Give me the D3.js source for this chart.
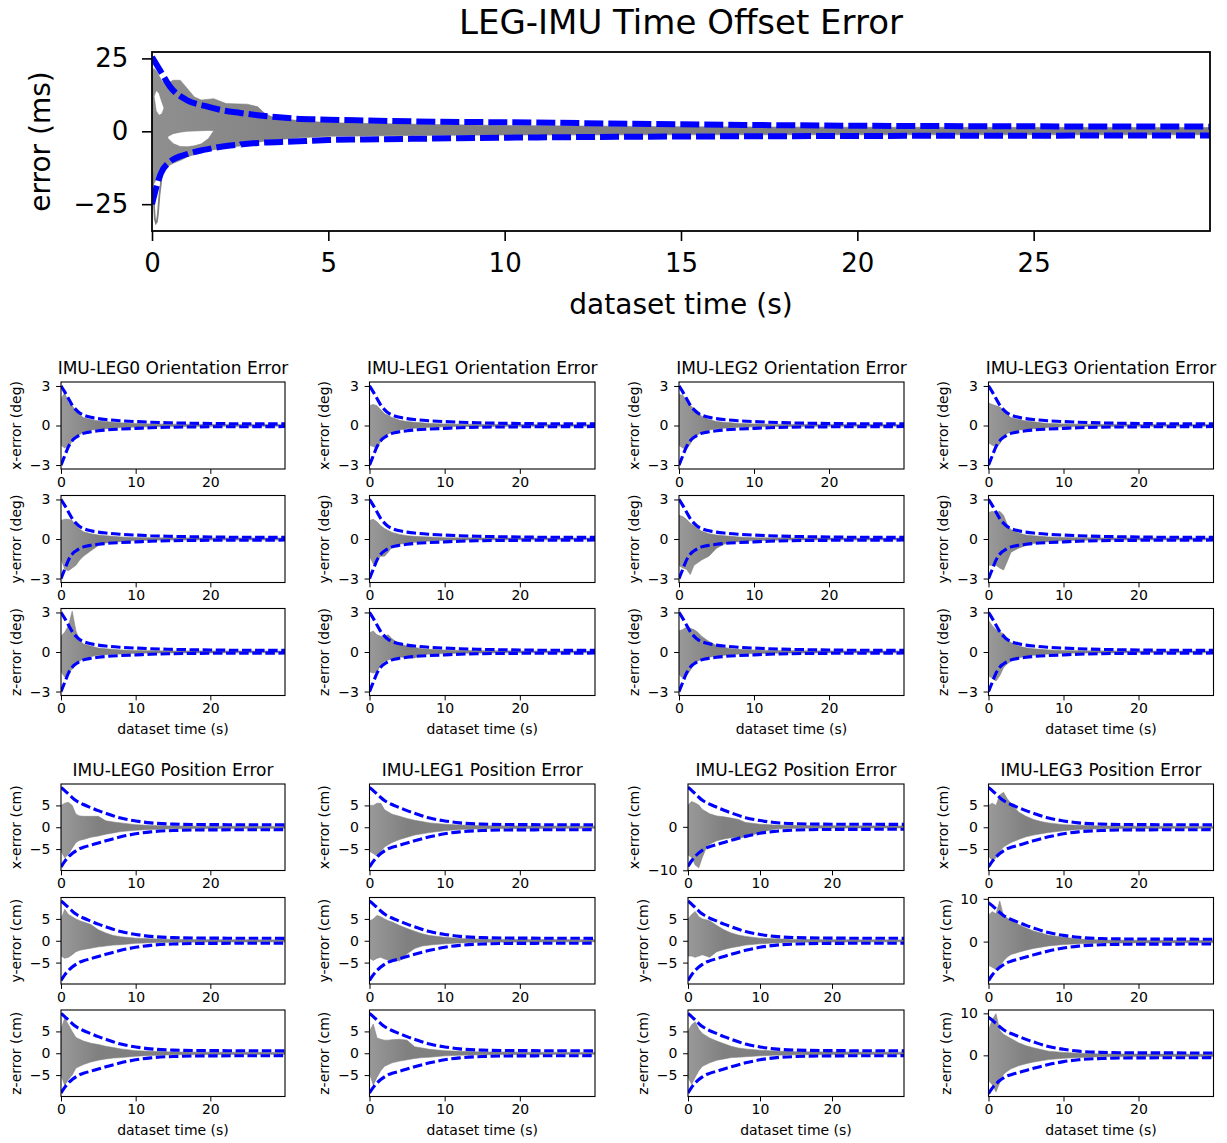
<!DOCTYPE html>
<html><head><meta charset="utf-8">
<script src="https://cdn.jsdelivr.net/npm/d3@7"></script>
<style>body{margin:0;background:#fff;} svg{display:block;font-family:"DejaVu Sans",sans-serif;}</style>
</head><body><svg id="c" width="1227" height="1143"></svg>
<script>
// ================= DATA =================
const legs = ["LEG0", "LEG1", "LEG2", "LEG3"];
const comps = ["x", "y", "z"];
const xTicksTop = [0, 5, 10, 15, 20, 25];
const yTicksTop = [-25, 0, 25];
const xTicksSmall = [0, 10, 20];
const yTicksOri = [-3, 0, 3];

// --- Time offset (top) ---
const topT      = [0, 0.05, 0.1, 0.15, 0.2, 0.3, 0.45, 0.6, 0.8, 1.0, 1.2, 1.4, 1.75, 2.1, 2.7, 3.0, 3.2, 3.45, 4.2, 5.1, 7.6, 10, 15, 20, 30];
const topGrayUp = [20, 21.6, 21, 20.4, 19, 17, 16.5, 17.5, 17.5, 14.7, 11.8, 10.7, 11.2, 9.5, 9.3, 8.4, 6.1, 4.7, 3.6, 2.9, 2.4, 2.0, 1.6, 1.4, 1.3];
const topGrayLo = [-14, -18, -17, -15.7, -15, -13.4, -12, -11, -10, -8.8, -8, -7.1, -6.3, -5.6, -4.8, -3.8, -3.3, -3.0, -2.2, -1.7, -1.4, -1.3, -1.2, -1.2, -1.2];
const topHole1T   = [0.45, 0.6, 0.8, 1.0, 1.2, 1.4, 1.6, 1.75];
const topHole1Top = [-1.8, -0.8, -0.3, 0, 0.1, 0.2, 0.3, 0.2];
const topHole1Bot = [-2.4, -4.2, -5.2, -5.3, -5.0, -4.3, -2.5, 0.2];
const topHole2T   = [0.06, 0.12, 0.2, 0.28, 0.34];
const topHole2Top = [12, 14, 13, 10, 8];
const topHole2Bot = [12, 7, 5.5, 6, 8];
const topOutT = [0.02, 0.05, 0.08, 0.11, 0.14, 0.17, 0.21, 0.27, 0.35];
const topOutV = [-14, -24, -30, -31.5, -31, -28, -22, -16, -12];
const topBoundT  = [0, 0.25, 0.5, 1, 1.5, 2, 2.5, 3, 4, 5, 6, 8, 10, 15, 20, 25, 30];
const topBoundUp = [25.5, 20.5, 15.5, 10.6, 8.7, 7.2, 6.3, 5.5, 4.4, 4.0, 3.7, 3.3, 3.1, 2.4, 1.9, 1.7, 1.6];
const topBoundLo = [-25, -14.5, -10.5, -7.8, -6.3, -5.2, -4.5, -4.0, -3.5, -3.0, -2.8, -2.5, -2.2, -1.8, -1.6, -1.5, -1.4];

// --- small panels: shared time grids ---
const grayT  = [0, 0.5, 1, 1.5, 2, 2.5, 3, 4, 5, 6, 7, 8, 10, 12, 15, 20, 30];
const boundT = [0, 0.5, 1, 1.5, 2, 2.5, 3, 4, 5, 6, 8, 10, 12, 15, 20, 25, 30];

// orientation 3-sigma bounds (deg)
const oriBoundUp = [3.0, 2.55, 2.05, 1.55, 1.2, 0.95, 0.8, 0.62, 0.52, 0.45, 0.36, 0.3, 0.25, 0.2, 0.15, 0.13, 0.12];
const oriBoundLo = [-3.0, -2.3, -1.6, -1.15, -0.9, -0.72, -0.6, -0.48, -0.4, -0.34, -0.27, -0.22, -0.17, -0.13, -0.1, -0.09, -0.08];
// position 3-sigma bounds (cm)
const posBoundUp = [9.1, 8.4, 7.6, 6.8, 6.1, 5.6, 5.2, 4.5, 3.8, 3.2, 2.1, 1.45, 1.0, 0.72, 0.6, 0.58, 0.55];
const posBoundLo = [-9.1, -7.8, -6.8, -6.0, -5.4, -4.9, -4.6, -4.1, -3.6, -3.1, -2.2, -1.5, -1.05, -0.75, -0.6, -0.58, -0.55];

// orientation MC envelopes per leg: [x, y, z]
const oriUpL0 = [[2.0, 2.5, 1.7, 1.5, 1.1, 0.8, 0.6, 0.45, 0.35, 0.3, 0.25, 0.2, 0.15, 0.12, 0.1, 0.08, 0.08],
                 [1.4, 1.5, 1.5, 1.4, 1.0, 0.75, 0.55, 0.4, 0.3, 0.25, 0.2, 0.16, 0.12, 0.1, 0.08, 0.08, 0.08],
                 [1.2, 1.5, 2.0, 3.1, 1.6, 0.9, 0.6, 0.45, 0.3, 0.25, 0.2, 0.16, 0.12, 0.1, 0.08, 0.08, 0.07]];
const oriLoL0 = [[-1.5, -1.7, -1.6, -1.2, -0.9, -0.7, -0.5, -0.35, -0.3, -0.25, -0.2, -0.16, -0.12, -0.1, -0.08, -0.06, -0.06],
                 [-1.5, -2.3, -2.4, -2.2, -2.0, -1.6, -1.3, -0.9, -0.5, -0.3, -0.25, -0.2, -0.12, -0.1, -0.08, -0.08, -0.08],
                 [-1.5, -1.9, -1.6, -1.3, -1.0, -0.7, -0.5, -0.35, -0.25, -0.2, -0.18, -0.15, -0.1, -0.08, -0.07, -0.07, -0.06]];
const oriUpL1 = [[1.5, 1.6, 1.5, 1.2, 0.9, 0.75, 0.6, 0.4, 0.3, 0.25, 0.2, 0.16, 0.12, 0.1, 0.08, 0.08, 0.07],
                 [1.4, 1.5, 1.3, 1.0, 0.8, 0.65, 0.5, 0.35, 0.25, 0.2, 0.18, 0.15, 0.1, 0.09, 0.08, 0.07, 0.07],
                 [1.45, 1.6, 1.3, 1.2, 1.2, 1.3, 1.0, 0.6, 0.45, 0.35, 0.25, 0.2, 0.15, 0.12, 0.1, 0.08, 0.07]];
const oriLoL1 = [[-1.5, -1.6, -1.75, -1.2, -0.8, -0.65, -0.5, -0.35, -0.25, -0.2, -0.18, -0.14, -0.1, -0.08, -0.07, -0.06, -0.06],
                 [-1.3, -1.9, -1.6, -1.3, -1.3, -1.0, -0.6, -0.4, -0.3, -0.25, -0.2, -0.16, -0.1, -0.08, -0.07, -0.06, -0.06],
                 [-1.5, -1.6, -1.5, -1.0, -0.7, -0.6, -0.5, -0.4, -0.4, -0.45, -0.2, -0.16, -0.12, -0.1, -0.08, -0.06, -0.06]];
const oriUpL2 = [[2.35, 2.3, 1.9, 1.5, 1.3, 1.1, 0.7, 0.45, 0.3, 0.25, 0.2, 0.16, 0.12, 0.1, 0.08, 0.08, 0.07],
                 [1.8, 1.7, 1.5, 1.2, 1.0, 0.8, 0.6, 0.4, 0.3, 0.25, 0.2, 0.15, 0.1, 0.09, 0.08, 0.07, 0.07],
                 [1.6, 1.7, 1.9, 1.8, 1.7, 1.5, 1.2, 0.8, 0.5, 0.35, 0.25, 0.2, 0.15, 0.12, 0.1, 0.08, 0.08]];
const oriLoL2 = [[-1.5, -1.7, -1.8, -1.4, -0.9, -0.7, -0.55, -0.35, -0.25, -0.2, -0.18, -0.14, -0.1, -0.08, -0.07, -0.06, -0.06],
                 [-2.0, -2.2, -2.3, -2.7, -2.0, -1.8, -1.6, -1.3, -0.7, -0.4, -0.25, -0.2, -0.12, -0.1, -0.08, -0.07, -0.07],
                 [-1.7, -2.0, -1.8, -1.4, -0.9, -0.7, -0.55, -0.4, -0.3, -0.25, -0.2, -0.16, -0.12, -0.1, -0.08, -0.07, -0.07]];
const oriUpL3 = [[1.7, 1.6, 1.5, 1.4, 1.2, 0.8, 0.6, 0.45, 0.35, 0.28, 0.2, 0.16, 0.12, 0.1, 0.08, 0.08, 0.07],
                 [2.0, 2.1, 2.0, 2.1, 1.8, 1.1, 0.7, 0.45, 0.3, 0.25, 0.2, 0.16, 0.12, 0.1, 0.08, 0.08, 0.08],
                 [2.4, 2.0, 1.7, 1.5, 1.4, 1.0, 0.7, 0.45, 0.32, 0.25, 0.2, 0.16, 0.12, 0.1, 0.08, 0.07, 0.07]];
const oriLoL3 = [[-1.3, -1.5, -1.6, -1.4, -0.8, -0.6, -0.5, -0.35, -0.3, -0.25, -0.2, -0.15, -0.1, -0.08, -0.07, -0.06, -0.06],
                 [-2.0, -2.0, -2.0, -2.2, -2.35, -1.7, -1.0, -0.7, -0.5, -0.35, -0.25, -0.2, -0.12, -0.1, -0.08, -0.07, -0.07],
                 [-1.8, -2.0, -2.2, -1.8, -1.2, -0.9, -0.7, -0.45, -0.3, -0.25, -0.2, -0.15, -0.1, -0.08, -0.07, -0.06, -0.06]];

// position MC envelopes per leg: [x, y, z]
const posUpL0 = [[5.0, 5.5, 5.7, 5.0, 3.0, 2.6, 2.5, 2.5, 2.5, 1.5, 1.2, 1.0, 0.6, 0.4, 0.3, 0.25, 0.2],
                 [4.9, 7.2, 6.0, 5.5, 5.0, 4.6, 4.3, 3.7, 2.5, 1.8, 1.2, 0.9, 0.6, 0.45, 0.3, 0.25, 0.2],
                 [5.5, 8.0, 6.5, 5.0, 3.6, 3.2, 2.8, 2.3, 2.0, 1.6, 1.3, 1.0, 0.6, 0.45, 0.3, 0.25, 0.2]];
const posLoL0 = [[-5.5, -7.0, -6.2, -4.8, -3.5, -3.0, -2.8, -2.3, -2.0, -1.6, -1.3, -1.0, -0.7, -0.5, -0.35, -0.3, -0.25],
                 [-3.5, -4.0, -3.8, -3.2, -2.5, -2.2, -2.0, -1.7, -1.4, -1.2, -1.0, -0.9, -0.6, -0.45, -0.35, -0.3, -0.25],
                 [-5.0, -7.3, -6.0, -5.0, -3.4, -3.0, -2.6, -2.0, -1.6, -1.3, -1.1, -1.0, -0.7, -0.5, -0.35, -0.3, -0.25]];
const posUpL1 = [[5.0, 5.0, 5.5, 5.5, 4.0, 3.5, 3.0, 2.5, 2.0, 1.6, 1.3, 1.0, 0.7, 0.5, 0.35, 0.3, 0.25],
                 [4.5, 5.0, 5.8, 5.5, 5.0, 4.6, 4.3, 3.5, 2.8, 2.2, 1.6, 1.2, 0.8, 0.5, 0.35, 0.3, 0.25],
                 [5.0, 6.7, 3.5, 3.2, 3.0, 3.0, 3.1, 3.2, 3.0, 1.5, 1.2, 0.9, 0.6, 0.45, 0.3, 0.25, 0.2]];
const posLoL1 = [[-5.5, -6.0, -6.6, -5.5, -4.5, -4.0, -3.5, -2.8, -2.3, -1.8, -1.5, -1.2, -0.8, -0.5, -0.35, -0.3, -0.25],
                 [-4.0, -4.5, -4.0, -3.8, -4.2, -4.4, -4.6, -4.6, -3.0, -1.8, -1.2, -1.0, -0.7, -0.5, -0.35, -0.3, -0.25],
                 [-4.5, -7.3, -5.5, -4.0, -3.0, -2.6, -2.2, -1.8, -1.5, -1.2, -1.0, -0.9, -0.6, -0.45, -0.35, -0.3, -0.25]];
const posUpL2 = [[5.0, 5.8, 5.5, 5.0, 4.0, 3.5, 3.0, 2.5, 2.3, 2.0, 1.7, 1.0, 0.6, 0.4, 0.3, 0.25, 0.2],
                 [5.0, 6.0, 6.7, 5.5, 5.0, 4.8, 4.6, 3.5, 2.5, 1.8, 1.3, 1.0, 0.6, 0.45, 0.3, 0.25, 0.2],
                 [5.0, 6.5, 7.2, 5.5, 4.5, 4.0, 3.5, 2.8, 2.2, 1.6, 1.2, 1.0, 0.7, 0.5, 0.35, 0.3, 0.25]];
const posLoL2 = [[-6.5, -7.0, -8.8, -9.4, -7.0, -5.0, -4.0, -3.2, -2.8, -2.5, -2.5, -2.4, -1.3, -0.5, -0.35, -0.3, -0.25],
                 [-3.5, -3.5, -3.8, -3.5, -3.2, -3.5, -3.8, -2.5, -2.0, -1.6, -1.3, -1.0, -0.7, -0.5, -0.35, -0.3, -0.25],
                 [-5.5, -7.1, -5.5, -4.0, -3.0, -2.6, -2.2, -1.6, -1.3, -1.0, -0.9, -0.8, -0.6, -0.45, -0.35, -0.3, -0.25]];
const posUpL3 = [[5.0, 5.5, 5.0, 7.4, 8.0, 6.5, 5.5, 3.5, 2.5, 1.8, 1.3, 1.0, 0.6, 0.45, 0.3, 0.25, 0.2],
                 [6.2, 7.0, 6.5, 9.5, 6.0, 5.5, 5.0, 4.0, 3.2, 2.5, 2.0, 1.5, 1.0, 0.6, 0.35, 0.3, 0.25],
                 [6.0, 8.5, 9.9, 6.0, 5.0, 4.5, 4.0, 3.0, 2.3, 1.8, 1.4, 1.0, 0.7, 0.5, 0.35, 0.3, 0.25]];
const posLoL3 = [[-6.5, -7.7, -7.0, -5.5, -4.5, -4.0, -3.5, -2.8, -2.2, -1.8, -1.5, -1.2, -0.8, -0.5, -0.35, -0.3, -0.25],
                 [-5.5, -6.0, -6.5, -5.7, -4.5, -3.6, -3.0, -2.5, -2.0, -1.6, -1.3, -1.0, -0.7, -0.5, -0.35, -0.3, -0.25],
                 [-6.0, -7.0, -8.7, -6.5, -4.5, -3.8, -3.2, -2.5, -2.0, -1.6, -1.3, -1.0, -0.7, -0.5, -0.35, -0.3, -0.25]];

// y-axis limits and tick labels of position panels
const posYLim = [[[-9.9, 9.9], [-9.9, 9.9], [-9.9, 9.9]],
                 [[-9.9, 9.9], [-9.9, 9.9], [-9.9, 9.9]],
                 [[-10.05, 9.85], [-9.9, 9.9], [-9.9, 9.9]],
                 [[-9.9, 9.9], [-9.9, 10.3], [-9.8, 10.8]]];
const posYTicks = [[[-5, 0, 5], [-5, 0, 5], [-5, 0, 5]],
                   [[-5, 0, 5], [-5, 0, 5], [-5, 0, 5]],
                   [[-10, 0], [-5, 0, 5], [-5, 0, 5]],
                   [[-5, 0, 5], [0, 10], [0, 10]]];

const oriUp = [oriUpL0, oriUpL1, oriUpL2, oriUpL3];
const oriLo = [oriLoL0, oriLoL1, oriLoL2, oriLoL3];
const posUp = [posUpL0, posUpL1, posUpL2, posUpL3];
const posLo = [posLoL0, posLoL1, posLoL2, posLoL3];

// ================= DRAWING =================
const svg = d3.select("#c");
const defs = svg.append("defs");
let uid = 0;
const fmt = d => d < 0 ? "\u2212" + (-d) : String(d);

const smallStyle = { tickFs: 14, labelFs: 14, titleFs: 17, tickLen: 4.9, tickW: 1.0, spineW: 1.1,
  xTickPad: 3.0, yTickPad: 5.6, yLabelGap: 8.9, xLabelOff: 38, titleOff: 8.4,
  blueW: 3.1, dash: "9.5,3.6", grayStart: 0.8, fadeEnd: 5, outW: 1.0 };
const bigStyle = { tickFs: 26, labelFs: 28, titleFs: 34, tickLen: 10, tickW: 1.6, spineW: 1.8,
  xTickPad: 12.5, yTickPad: 13.7, yLabelGap: 23.4, xLabelOff: 83, titleOff: 18,
  blueW: 6, dash: "19,5", grayStart: 0.88, fadeEnd: 5, outW: 1.8 };

function drawPanel(p) {
  const id = uid++;
  const s = p.style;
  const g = svg.append("g");
  const x = d3.scaleLinear().domain([0, 30]).range([p.left, p.left + p.width]);
  const y = d3.scaleLinear().domain(p.yLim).range([p.top + p.height, p.top]);

  defs.append("clipPath").attr("id", "clip" + id).append("rect")
    .attr("x", p.left).attr("y", p.top).attr("width", p.width).attr("height", p.height);
  const grad = defs.append("linearGradient").attr("id", "grad" + id)
    .attr("gradientUnits", "userSpaceOnUse")
    .attr("x1", x(0)).attr("x2", x(s.fadeEnd)).attr("y1", 0).attr("y2", 0);
  grad.append("stop").attr("offset", 0).attr("stop-color", "#808080").attr("stop-opacity", s.grayStart);
  grad.append("stop").attr("offset", 1).attr("stop-color", "#808080").attr("stop-opacity", 1);

  const plot = g.append("g").attr("clip-path", `url(#clip${id})`);
  const area = d3.area().x(d => x(d[0])).y0(d => y(d[1])).y1(d => y(d[2]));
  let dStr = area(d3.zip(p.grayT, p.grayLo, p.grayUp));
  (p.holes || []).forEach(h => { dStr += area(d3.zip(h.t, h.bot, h.top)); });
  plot.append("path").attr("d", dStr).attr("fill", `url(#grad${id})`).attr("fill-rule", "evenodd")
    .attr("stroke", "#808080").attr("stroke-width", 0.7).attr("stroke-opacity", 0.8);

  const line = d3.line().x(d => x(d[0])).y(d => y(d[1]));
  (p.outliers || []).forEach(o => {
    plot.append("path").attr("d", line(d3.zip(o.t, o.v))).attr("fill", "none")
      .attr("stroke", "#808080").attr("stroke-width", s.outW);
  });

  const bline = d3.line().curve(d3.curveMonotoneX).x(d => x(d[0])).y(d => y(d[1]));
  [p.boundUp, p.boundLo].forEach(arr => {
    plot.append("path").attr("d", bline(d3.zip(p.boundT, arr))).attr("fill", "none")
      .attr("stroke", "#0000ff").attr("stroke-width", s.blueW).attr("stroke-dasharray", s.dash);
  });

  // axes
  const xa = g.append("g").attr("transform", `translate(0,${p.top + p.height})`)
    .call(d3.axisBottom(x).tickValues(p.xTicks).tickFormat(fmt).tickSize(s.tickLen).tickSizeOuter(0).tickPadding(s.xTickPad));
  const ya = g.append("g").attr("transform", `translate(${p.left},0)`)
    .call(d3.axisLeft(y).tickValues(p.yTicks).tickFormat(fmt).tickSize(s.tickLen).tickSizeOuter(0).tickPadding(s.yTickPad));
  [xa, ya].forEach(a => {
    a.select(".domain").remove();
    a.selectAll("line").attr("stroke", "#000").attr("stroke-width", s.tickW);
    a.selectAll("text").attr("fill", "#000").attr("font-size", s.tickFs).attr("font-family", "DejaVu Sans");
  });

  g.append("rect").attr("x", p.left).attr("y", p.top).attr("width", p.width).attr("height", p.height)
    .attr("fill", "none").attr("stroke", "#000").attr("stroke-width", s.spineW);

  // y label (placed left of widest tick label)
  let maxW = 0;
  ya.selectAll("text").each(function () { maxW = Math.max(maxW, this.getComputedTextLength()); });
  const ylx = p.left - s.tickLen - s.yTickPad - maxW - s.yLabelGap;
  const ycy = p.top + p.height / 2;
  g.append("text").attr("transform", `translate(${ylx},${ycy}) rotate(-90)`)
    .attr("text-anchor", "middle").attr("font-size", s.labelFs).attr("fill", "#000").text(p.ylabel);

  if (p.xlabel) {
    g.append("text").attr("x", p.left + p.width / 2).attr("y", p.top + p.height + s.xLabelOff)
      .attr("text-anchor", "middle").attr("font-size", s.labelFs).attr("fill", "#000").text(p.xlabel);
  }
  if (p.title) {
    g.append("text").attr("x", p.left + p.width / 2).attr("y", p.top - s.titleOff)
      .attr("text-anchor", "middle").attr("font-size", s.titleFs).attr("fill", "#000").text(p.title);
  }
}

// ---- top panel ----
drawPanel({
  style: bigStyle, left: 152, top: 52, width: 1058, height: 179,
  yLim: [-34.2, 27.2], xTicks: xTicksTop, yTicks: yTicksTop,
  grayT: topT, grayUp: topGrayUp, grayLo: topGrayLo,
  holes: [{ t: topHole1T, top: topHole1Top, bot: topHole1Bot }, { t: topHole2T, top: topHole2Top, bot: topHole2Bot }],
  outliers: [{ t: topOutT, v: topOutV }],
  boundT: topBoundT, boundUp: topBoundUp, boundLo: topBoundLo,
  title: "LEG-IMU Time Offset Error", xlabel: "dataset time (s)", ylabel: "error (ms)"
});

// ---- orientation grid ----
const oriLefts = [61, 369.5, 679, 988.5];
const oriWidths = [224, 225.5, 225, 225];
const oriTops = [382, 495.5, 608.5];
legs.forEach((leg, li) => {
  comps.forEach((c, ci) => {
    drawPanel({
      style: smallStyle, left: oriLefts[li], top: oriTops[ci], width: oriWidths[li], height: 87,
      yLim: [-3.3, 3.3], xTicks: xTicksSmall, yTicks: yTicksOri,
      grayT: grayT, grayUp: oriUp[li][ci], grayLo: oriLo[li][ci],
      boundT: boundT, boundUp: oriBoundUp, boundLo: oriBoundLo,
      title: ci === 0 ? `IMU-${leg} Orientation Error` : null,
      xlabel: ci === 2 ? "dataset time (s)" : null,
      ylabel: `${c}-error (deg)`
    });
  });
});

// ---- position grid ----
const posLefts = [61, 369.5, 688, 988.5];
const posWidths = [224, 225.5, 216, 225];
const posTops = [784, 897.5, 1010];
legs.forEach((leg, li) => {
  comps.forEach((c, ci) => {
    drawPanel({
      style: smallStyle, left: posLefts[li], top: posTops[ci], width: posWidths[li], height: 86.5,
      yLim: posYLim[li][ci], xTicks: xTicksSmall, yTicks: posYTicks[li][ci],
      grayT: grayT, grayUp: posUp[li][ci], grayLo: posLo[li][ci],
      boundT: boundT, boundUp: posBoundUp, boundLo: posBoundLo,
      title: ci === 0 ? `IMU-${leg} Position Error` : null,
      xlabel: ci === 2 ? "dataset time (s)" : null,
      ylabel: `${c}-error (cm)`
    });
  });
});
</script>
</body></html>
